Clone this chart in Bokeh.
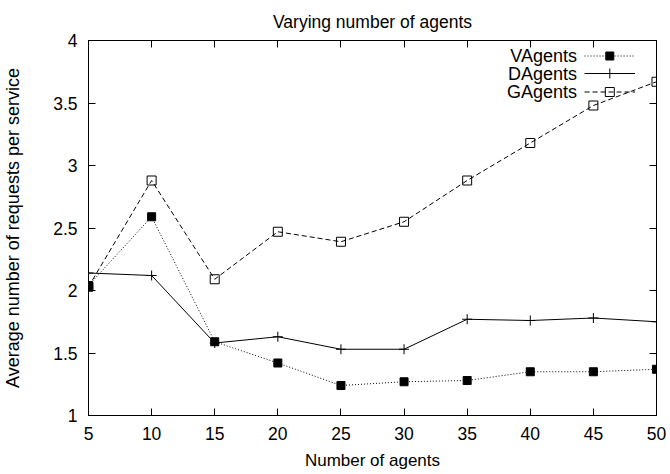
from bokeh.plotting import figure
from bokeh.models import LinearAxis, FixedTicker, Range1d
from bokeh.core.properties import value
from bokeh.embed import file_html
from bokeh.resources import INLINE

# Data: average number of requests per service vs number of agents
agents = [5, 10, 15, 20, 25, 30, 35, 40, 45, 50]
v_agents = [2.04, 2.59, 1.59, 1.42, 1.24, 1.27, 1.28, 1.35, 1.35, 1.37]
d_agents = [2.14, 2.12, 1.58, 1.63, 1.53, 1.53, 1.77, 1.76, 1.78, 1.75]
g_agents = [2.03, 2.88, 2.09, 2.47, 2.39, 2.55, 2.88, 3.18, 3.48, 3.67]

x_ticks = [5, 10, 15, 20, 25, 30, 35, 40, 45, 50]
y_ticks = [1, 1.5, 2, 2.5, 3, 3.5, 4]
y_tick_labels = ["1", "1.5", "2", "2.5", "3", "3.5", "4"]

series_names = ["VAgents", "DAgents", "GAgents"]

FONT = "Liberation Sans"
TICK_FS = "17.5px"
LABEL_FS = "17px"
TITLE_FS = "17.5px"
KEY_FS = "18px"

p = figure(width=670, height=474, output_backend="svg", toolbar_location=None,
           x_range=Range1d(5, 50), y_range=Range1d(1, 4),
           min_border_left=87, min_border_right=14, min_border_top=40,
           min_border_bottom=59, background_fill_color="white",
           border_fill_color="white")

p.title.text = "Varying number of agents"
p.title.align = "center"
p.title.standoff = 18
p.title.text_font = FONT
p.title.text_font_size = TITLE_FS
p.title.text_font_style = "normal"
p.title.text_color = "black"

p.xgrid.visible = False
p.ygrid.visible = False
p.outline_line_color = "black"
p.outline_line_width = 1
p.outline_line_alpha = 1


def style_axis(ax, labels=True):
    ax.axis_line_color = "black"
    ax.major_tick_line_color = "black"
    ax.major_tick_in = 7
    ax.major_tick_out = 0
    ax.minor_tick_line_color = None
    ax.major_label_text_font = FONT
    ax.major_label_text_font_size = TICK_FS
    ax.major_label_text_color = "black"
    ax.axis_label_text_font = FONT
    ax.axis_label_text_font_size = LABEL_FS
    ax.axis_label_text_font_style = "normal"
    ax.axis_label_text_color = "black"
    if not labels:
        ax.major_label_text_color = None
        ax.major_label_text_font_size = "0px"
        ax.major_label_standoff = 0


xa = p.xaxis[0]
xa.ticker = FixedTicker(ticks=x_ticks)
xa.axis_label = "Number of agents"
style_axis(xa)
xa.major_label_standoff = 11
xa.axis_label_standoff = 8

ya = p.yaxis[0]
ya.ticker = FixedTicker(ticks=y_ticks)
ya.major_label_overrides = {t: s for t, s in zip(y_ticks, y_tick_labels)}
ya.axis_label = "Average number of requests per service"
style_axis(ya)
ya.axis_label_text_font_size = "18px"
ya.major_label_standoff = 11
ya.axis_label_standoff = 27

# mirrored tick marks on the top and right edges
top_ax = LinearAxis(ticker=FixedTicker(ticks=x_ticks))
style_axis(top_ax, labels=False)
p.add_layout(top_ax, "above")
right_ax = LinearAxis(ticker=FixedTicker(ticks=y_ticks))
style_axis(right_ax, labels=False)
p.add_layout(right_ax, "right")

# series
p.line(agents, v_agents, line_color="black", line_width=1, line_dash="1 2")
p.scatter(agents, v_agents, marker="square", size=8, fill_color="black", line_color="black")

p.line(agents, d_agents, line_color="black", line_width=1)
p.scatter(agents, d_agents, marker="cross", size=10, line_color="black", line_width=1)

p.line(agents, g_agents, line_color="black", line_width=1, line_dash="5 3")
p.scatter(agents, g_agents, marker="square", size=9, fill_color=None, line_color="black", line_width=1)

# key in the upper right: label on the left, line sample on the right
key_text_x = 43.7
key_x0, key_x1, key_xm = 44.3, 48.3, 46.3
key_rows = [3.876, 3.736, 3.588]
key_dash = ["1 2", "solid", "5 3"]

p.text(x=[key_text_x] * 3, y=key_rows, text=series_names, text_align="right",
       text_baseline="middle", text_font=value(FONT), text_font_size=KEY_FS, text_color="black")
for row, dash in zip(key_rows, key_dash):
    p.line([key_x0, key_x1], [row, row], line_color="black", line_width=1, line_dash=dash)
p.scatter([key_xm], [key_rows[0]], marker="square", size=8, fill_color="black", line_color="black")
p.scatter([key_xm], [key_rows[1]], marker="cross", size=10, line_color="black")
p.scatter([key_xm], [key_rows[2]], marker="square", size=9, fill_color=None, line_color="black")

open("out.html", "w").write(file_html(p, INLINE))
